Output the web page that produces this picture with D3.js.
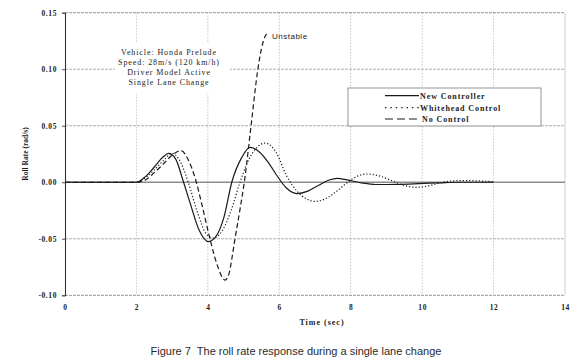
<!DOCTYPE html>
<html>
<head>
<meta charset="utf-8">
<script src="https://cdn.jsdelivr.net/npm/d3@7"></script>
<style>
  html, body { margin: 0; padding: 0; background: #fff; }
  svg { display: block; }
</style>
</head>
<body>
<svg id="chart" width="580" height="362"></svg>
<script>
// ---------- data ----------
const xTicks = [0, 2, 4, 6, 8, 10, 12, 14];
const yTicks = [-0.10, -0.05, 0.00, 0.05, 0.10, 0.15];

const newT = [0, 2, 2.25, 2.5, 2.75, 2.9, 3.1, 3.3, 3.5, 3.75, 3.9, 4.01, 4.2, 4.45, 4.67, 4.95, 5.18, 5.45, 5.7, 5.95, 6.2, 6.49, 6.8, 7.1, 7.4, 7.62, 7.9, 8.3, 8.7, 9.3, 9.9, 10.5, 11, 12];
const newV = [0, 0, 0.005, 0.0135, 0.0225, 0.0255, 0.0205, 0.002, -0.018, -0.042, -0.050, -0.0525, -0.049, -0.031, 0, 0.022, 0.0308, 0.0266, 0.0172, 0.0051, -0.0051, -0.010, -0.0078, -0.0027, 0.002, 0.0035, 0.0021, -0.0005, -0.002, -0.0018, -0.0012, -0.0005, 0, 0];

const whiteT = [0, 2, 2.25, 2.5, 2.75, 3.0, 3.2, 3.45, 3.7, 3.95, 4.15, 4.4, 4.65, 4.9, 5.1, 5.35, 5.6, 5.9, 6.2, 6.5, 6.75, 7.0, 7.3, 7.6, 7.9, 8.2, 8.45, 8.8, 9.15, 9.5, 9.85, 10.2, 10.5, 10.9, 11.3, 11.7, 12];
const whiteV = [0, 0, 0.004, 0.011, 0.019, 0.0255, 0.0199, 0.0001, -0.0256, -0.0455, -0.0494, -0.043, -0.025, 0, 0.017, 0.030, 0.0347, 0.027, 0.006, -0.008, -0.0145, -0.017, -0.0145, -0.0081, -0.0004, 0.0056, 0.0073, 0.0056, 0.0014, -0.0028, -0.0045, -0.003, -0.0005, 0.0013, 0.0015, 0.001, 0.0005];

const noT = [0, 2, 2.25, 2.5, 2.75, 3.0, 3.25, 3.45, 3.65, 3.85, 4.05, 4.25, 4.48, 4.6, 4.68, 4.76, 4.9, 5.02, 5.21, 5.4, 5.5, 5.6, 5.68];
const noV = [0, 0, 0.002, 0.0085, 0.016, 0.024, 0.028, 0.020, 0.003, -0.022, -0.049, -0.072, -0.0865, -0.080, -0.066, -0.050, -0.024, 0, 0.050, 0.100, 0.118, 0.129, 0.132];

const seriesNames = ["New Controller", "Whitehead Control", "No Control"];
const infoLines = ["Vehicle: Honda Prelude", "Speed: 28m/s (120 km/h)", "Driver Model Active", "Single Lane Change"];
const unstableLabel = "Unstable";
const xTitle = "Time (sec)";
const yTitle = "Roll Rate (rad/s)";
const caption = "Figure 7  The roll rate response during a single lane change";

// ---------- layout ----------
const svg = d3.select("#chart");
const x = d3.scaleLinear().domain([0, 14]).range([65, 565]);
const y = d3.scaleLinear().domain([-0.10, 0.15]).range([295.3, 12.7]);
const serif = "'Liberation Serif', 'Times New Roman', serif";
const sans = "'Liberation Sans', Arial, sans-serif";
const ink = "#1c1c1c";

// vertical grid lines
svg.append("g").selectAll("line").data(xTicks.filter(d => d > 0 && d < 14)).join("line")
  .attr("x1", d => x(d)).attr("x2", d => x(d))
  .attr("y1", y(0.15)).attr("y2", y(-0.10))
  .attr("stroke", "#b8b8b8").attr("stroke-width", 0.8).attr("stroke-dasharray", "1.5,1.5");

// horizontal grid lines
svg.append("g").selectAll("line").data(yTicks.filter(d => Math.abs(d) > 1e-9)).join("line")
  .attr("x1", x(0)).attr("x2", x(14))
  .attr("y1", d => y(d)).attr("y2", d => y(d))
  .attr("stroke", d => (d === 0.15 || d === -0.10) ? "#8a8a8a" : "#a8a8a8")
  .attr("stroke-width", 0.9)
  .attr("stroke-dasharray", "3,1");

// right border
svg.append("line").attr("x1", x(14)).attr("x2", x(14)).attr("y1", y(0.15)).attr("y2", y(-0.10))
  .attr("stroke", "#c4c4c4").attr("stroke-width", 0.8);

// white info box hiding the grid
svg.append("rect").attr("x", 115).attr("y", 43).attr("width", 115).attr("height", 51).attr("fill", "#fff");

// zero line
svg.append("line").attr("x1", x(0)).attr("x2", x(14)).attr("y1", y(0)).attr("y2", y(0))
  .attr("stroke", "#8c8c8c").attr("stroke-width", 1.3);

// y axis
const yAxis = svg.append("g").attr("transform", `translate(${x(0)},0)`)
  .call(d3.axisLeft(y).tickValues(yTicks).tickFormat(d => d.toFixed(2)).tickSize(3).tickPadding(5));
yAxis.select(".domain").attr("stroke", "#333").attr("stroke-width", 1.1);
yAxis.selectAll(".tick line").attr("stroke", "#555");
yAxis.selectAll("text").attr("font-family", serif).attr("font-weight", "bold")
  .attr("font-size", 7.5).attr("letter-spacing", "0.6px").attr("fill", ink);

// x axis labels
const xAxis = svg.append("g").attr("transform", `translate(0,${y(-0.10)})`)
  .call(d3.axisBottom(x).tickValues(xTicks).tickFormat(d3.format("d")).tickSize(0).tickPadding(9));
xAxis.select(".domain").remove();
xAxis.selectAll("text").attr("font-family", serif).attr("font-weight", "bold")
  .attr("font-size", 7.5).attr("letter-spacing", "0.6px").attr("fill", ink);

// axis titles
svg.append("text").attr("x", x(7) + 7).attr("y", 325).attr("text-anchor", "middle")
  .attr("font-family", serif).attr("font-weight", "bold").attr("font-size", 8)
  .attr("letter-spacing", "1px").attr("fill", ink).text(xTitle);
svg.append("text").attr("transform", "translate(28,154) rotate(-90)").attr("text-anchor", "middle")
  .attr("font-family", serif).attr("font-weight", "bold").attr("font-size", 7.5)
  .attr("fill", ink).text(yTitle);

// ---------- series ----------
const line = d3.line().x(d => x(d[0])).y(d => y(d[1])).curve(d3.curveMonotoneX);
const zip = (t, v) => t.map((d, i) => [d, v[i]]);
const styles = [
  { data: zip(newT, newV), dash: null, legDash: null, width: 1.2 },
  { data: zip(whiteT, whiteV), dash: "1.2,2", legDash: "1.4,4", width: 1.2 },
  { data: zip(noT, noV), dash: "5,3", legDash: "8,4", width: 1.2 }
];
svg.append("g").selectAll("path").data(styles).join("path")
  .attr("d", d => line(d.data))
  .attr("fill", "none").attr("stroke", "#1a1a1a")
  .attr("stroke-width", d => d.width)
  .attr("stroke-dasharray", d => d.dash);

// Unstable label
svg.append("text").attr("x", 272).attr("y", 38.5)
  .attr("font-family", sans).attr("font-size", 8).attr("letter-spacing", "0.5px")
  .attr("fill", ink).text(unstableLabel);

// info text
svg.append("g").selectAll("text").data(infoLines).join("text")
  .attr("x", 169).attr("y", (d, i) => 55 + i * 10).attr("text-anchor", "middle")
  .attr("font-family", serif).attr("font-size", 8).attr("letter-spacing", "0.9px")
  .attr("fill", ink).text(d => d);

// legend
const lg = svg.append("g");
lg.append("rect").attr("x", 348).attr("y", 88).attr("width", 193).attr("height", 38)
  .attr("fill", "#fff").attr("stroke", "#8a8a8a").attr("stroke-width", 0.9);
const legY = [95.7, 107.7, 119];
lg.selectAll("line").data(styles).join("line")
  .attr("x1", 385).attr("x2", 419)
  .attr("y1", (d, i) => legY[i]).attr("y2", (d, i) => legY[i])
  .attr("stroke", "#1a1a1a").attr("stroke-width", 1.2)
  .attr("stroke-dasharray", d => d.legDash);
lg.selectAll("text").data(seriesNames).join("text")
  .attr("x", (d, i) => i === 2 ? 422 : 420).attr("y", (d, i) => legY[i] + 2.8)
  .attr("font-family", serif).attr("font-weight", "bold").attr("font-size", 8)
  .attr("letter-spacing", "0.9px").attr("fill", ink).text(d => d);

// caption
svg.append("text").attr("x", 296).attr("y", 355).attr("text-anchor", "middle")
  .attr("font-family", sans).attr("font-size", 11).attr("fill", "#2a2a2a")
  .attr("xml:space", "preserve").style("white-space", "pre").text(caption);
</script>
</body>
</html>
